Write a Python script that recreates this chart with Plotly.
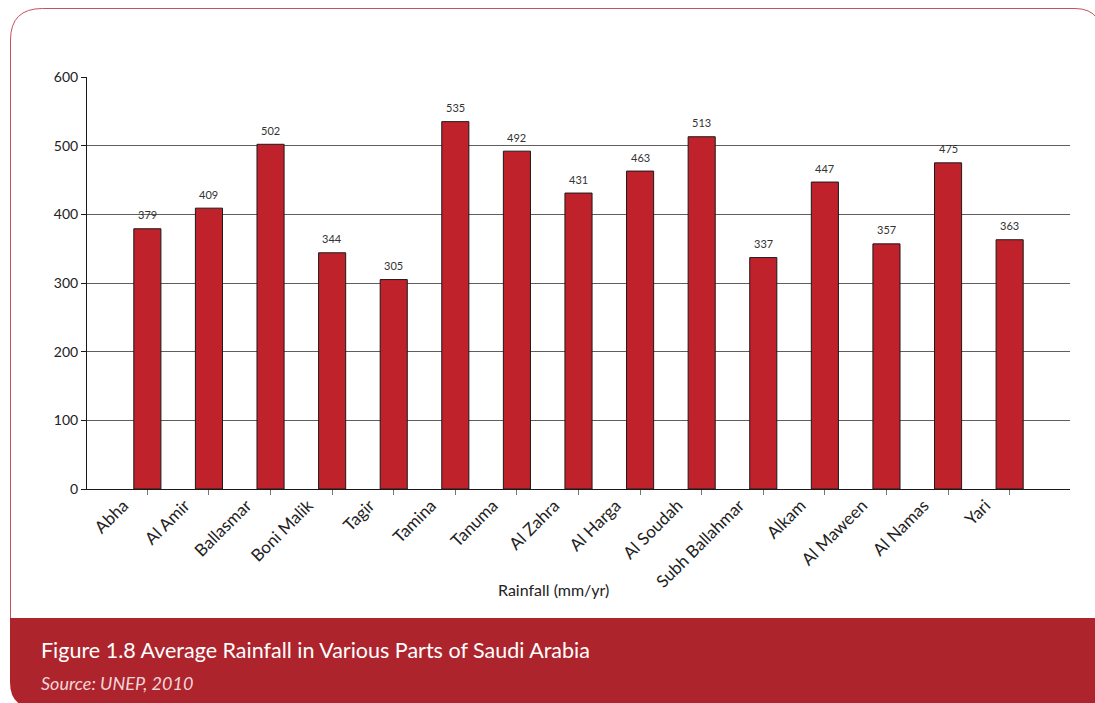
import plotly.graph_objects as go

categories = ["Abha", "Al Amir", "Ballasmar", "Boni Malik", "Tagir", "Tamina", "Tanuma",
              "Al Zahra", "Al Harga", "Al Soudah", "Subh Ballahmar", "Alkam", "Al Maween",
              "Al Namas", "Yari"]
rainfall = [379, 409, 502, 344, 305, 535, 492, 431, 463, 513, 337, 447, 357, 475, 363]
y_ticks = [0, 100, 200, 300, 400, 500, 600]

W, H = 1095, 703
L, R, T, B = 87, 1070, 77, 489
pw, ph = R - L, B - T

def px(x):
    return (x - L) / pw

def py(y):
    return (B - y) / ph

FONT = "Lato, 'Open Sans', sans-serif"
RED = "#C0222C"
BAND = "#AE242D"

fig = go.Figure()
fig.add_trace(go.Bar(
    x=categories, y=rainfall, width=0.44,
    marker=dict(color=RED, line=dict(color="#1a1a1a", width=1)),
    hoverinfo="x+y",
))

# value labels above bars
value_notes = [
    dict(x=c, y=v, text=str(v), xref="x", yref="y", yshift=14, showarrow=False,
         font=dict(size=11, color="#333333", family=FONT))
    for c, v in zip(categories, rainfall)
]

# footer band path with rounded bottom-left corner
r = 26
band = (f"M {px(10)},{py(618)} L {px(W + 5)},{py(618)} L {px(W + 5)},{py(H + 5)} "
        f"L {px(10 + r)},{py(H + 5)} Q {px(10)},{py(H + 5)} {px(10)},{py(H + 5 - r)} Z")
# border outline: left line, top-left arc, top line, top-right arc
r2 = 32
border = (f"M {px(10.5)},{py(618)} L {px(10.5)},{py(8 + r2)} "
          f"Q {px(10.5)},{py(8.5)} {px(10.5 + r2)},{py(8.5)} "
          f"L {px(1075)},{py(8.5)} Q {px(1090)},{py(8.5)} {px(1097)},{py(18)}")

fig.update_layout(
    width=W, height=H,
    margin=dict(l=L, r=W - R, t=T, b=H - B, autoexpand=False),
    paper_bgcolor="white", plot_bgcolor="white",
    showlegend=False,
    font=dict(family=FONT, color="#222222"),
    xaxis=dict(
        range=[-0.98, 14.98], showgrid=False,
        showline=True, linecolor="#1a1a1a", linewidth=1,
        ticks="outside", ticklen=5, tickcolor="#777777",
        tickangle=-45, tickfont=dict(size=17, color="#222222", family=FONT),
        ticklabelshift=-24, ticklabelstandoff=-6,
        fixedrange=True,
    ),
    yaxis=dict(
        range=[0, 600], tickvals=y_ticks, showgrid=True, gridcolor="#5f5f5f", gridwidth=1,
        showline=True, linecolor="#1a1a1a", linewidth=1,
        ticks="outside", ticklen=5, tickcolor="#1a1a1a",
        tickfont=dict(size=14, color="#222222", family=FONT),
        zeroline=False, fixedrange=True,
    ),
    shapes=[
        dict(type="path", xref="paper", yref="paper", path=band,
             fillcolor=BAND, line=dict(width=0), layer="below"),
        dict(type="path", xref="paper", yref="paper", path=border,
             line=dict(color="#C8505A", width=1), layer="below"),
    ],
    annotations=value_notes + [
        dict(text="Rainfall (mm/yr)", xref="paper", yref="paper",
             x=px(553), y=py(589), showarrow=False, yanchor="middle",
             font=dict(size=16, color="#222222", family=FONT)),
        dict(text="Figure 1.8 Average Rainfall in Various Parts of Saudi Arabia",
             xref="paper", yref="paper", x=px(39), y=py(650), xanchor="left",
             yanchor="middle",
             showarrow=False, font=dict(size=21.5, color="white", family=FONT)),
        dict(text="<i>Source: UNEP, 2010</i>", xref="paper", yref="paper",
             x=px(39), y=py(683), xanchor="left", yanchor="middle", showarrow=False,
             font=dict(size=18, color="#F2D6D8", family=FONT)),
    ],
)

fig.write_html("out.html", config={"displayModeBar": False},
               post_script="document.body.style.margin='0';document.body.style.overflow='hidden';")
